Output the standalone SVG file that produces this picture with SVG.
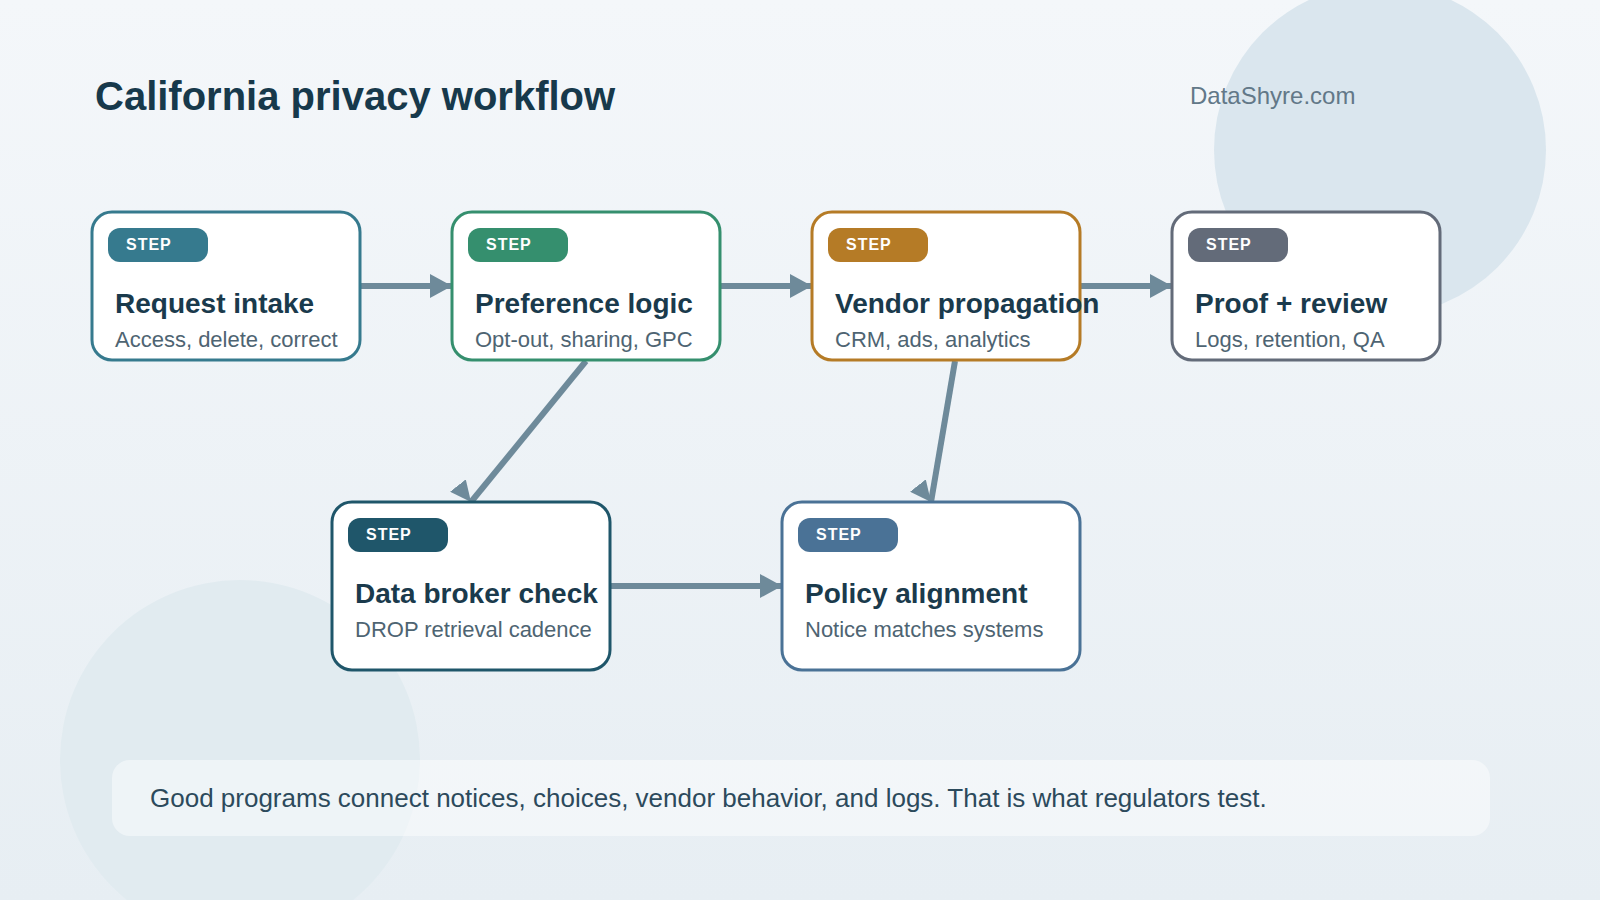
<svg xmlns="http://www.w3.org/2000/svg" width="1600" height="900" viewBox="0 0 1600 900">
  <defs>
    <linearGradient id="bg" x1="0" y1="0" x2="0" y2="1">
      <stop offset="0" stop-color="#f4f7fa"/>
      <stop offset="1" stop-color="#e7eef3"/>
    </linearGradient>
    <marker id="arrow" viewBox="0 0 22 24" refX="22" refY="12" markerWidth="22" markerHeight="24" markerUnits="userSpaceOnUse" orient="auto">
      <path d="M0,0 L22,12 L0,24 Z" fill="#6e8a9a"/>
    </marker>
    <marker id="arrowFixed" viewBox="0 0 21 20" refX="21" refY="10" markerWidth="21" markerHeight="20" markerUnits="userSpaceOnUse" orient="51.5">
      <path d="M0,0 L21,10 L0,20 Z" fill="#6e8a9a"/>
    </marker>
    <style>
      .node { fill: #ffffff; stroke-width: 3; }
      .badge-text { font-family: "Liberation Sans", Arial, sans-serif; font-weight: bold; font-size: 16px; fill: #ffffff; letter-spacing: 1px; }
      .title { font-family: "Liberation Sans", Arial, sans-serif; font-weight: bold; font-size: 28px; fill: #1a3a4c; }
      .sub { font-family: "Liberation Sans", Arial, sans-serif; font-size: 22px; fill: #4e6472; }
      .conn { stroke: #6e8a9a; stroke-width: 6; fill: none; marker-end: url(#arrow); }
      .conn-d { stroke: #6e8a9a; stroke-width: 6; fill: none; marker-end: url(#arrowFixed); }
    </style>
  </defs>

  <rect x="0" y="0" width="1600" height="900" fill="url(#bg)"/>
  <circle cx="1380" cy="150" r="166" fill="#dae6ee"/>
  <circle cx="240" cy="760" r="180" fill="#e1ebf0"/>

  <text x="95" y="110" font-family="Liberation Sans, Arial, sans-serif" font-weight="bold" font-size="40" fill="#17394b">California privacy workflow</text>
  <text x="1190" y="104" font-family="Liberation Sans, Arial, sans-serif" font-size="24" fill="#627888">DataShyre.com</text>

  <g id="connectors">
    <line class="conn" x1="360" y1="286" x2="452" y2="286"/>
    <line class="conn" x1="720" y1="286" x2="812" y2="286"/>
    <line class="conn" x1="1080" y1="286" x2="1172" y2="286"/>
    <line class="conn-d" x1="586" y1="361" x2="471" y2="502"/>
    <line class="conn-d" x1="955" y1="361" x2="931" y2="502"/>
    <line class="conn" x1="610" y1="586" x2="782" y2="586"/>
  </g>

  <g id="node-request-intake">
    <rect class="node" x="92" y="212" width="268" height="148" rx="20" stroke="#367a8e"/>
    <rect x="108" y="228" width="100" height="34" rx="12" fill="#367a8e"/>
    <text class="badge-text" x="126" y="250">STEP</text>
    <text class="title" x="115" y="313">Request intake</text>
    <text class="sub" x="115" y="347">Access, delete, correct</text>
  </g>

  <g id="node-preference-logic">
    <rect class="node" x="452" y="212" width="268" height="148" rx="20" stroke="#358f6e"/>
    <rect x="468" y="228" width="100" height="34" rx="12" fill="#358f6e"/>
    <text class="badge-text" x="486" y="250">STEP</text>
    <text class="title" x="475" y="313">Preference logic</text>
    <text class="sub" x="475" y="347">Opt-out, sharing, GPC</text>
  </g>

  <g id="node-vendor-propagation">
    <rect class="node" x="812" y="212" width="268" height="148" rx="20" stroke="#b57b26"/>
    <rect x="828" y="228" width="100" height="34" rx="12" fill="#b57b26"/>
    <text class="badge-text" x="846" y="250">STEP</text>
    <text class="title" x="835" y="313">Vendor propagation</text>
    <text class="sub" x="835" y="347">CRM, ads, analytics</text>
  </g>

  <g id="node-proof-review">
    <rect class="node" x="1172" y="212" width="268" height="148" rx="20" stroke="#636b79"/>
    <rect x="1188" y="228" width="100" height="34" rx="12" fill="#636b79"/>
    <text class="badge-text" x="1206" y="250">STEP</text>
    <text class="title" x="1195" y="313">Proof + review</text>
    <text class="sub" x="1195" y="347">Logs, retention, QA</text>
  </g>

  <g id="node-data-broker-check">
    <rect class="node" x="332" y="502" width="278" height="168" rx="20" stroke="#1f566a"/>
    <rect x="348" y="518" width="100" height="34" rx="12" fill="#1f566a"/>
    <text class="badge-text" x="366" y="540">STEP</text>
    <text class="title" x="355" y="603">Data broker check</text>
    <text class="sub" x="355" y="637">DROP retrieval cadence</text>
  </g>

  <g id="node-policy-alignment">
    <rect class="node" x="782" y="502" width="298" height="168" rx="20" stroke="#4a7296"/>
    <rect x="798" y="518" width="100" height="34" rx="12" fill="#4a7296"/>
    <text class="badge-text" x="816" y="540">STEP</text>
    <text class="title" x="805" y="603">Policy alignment</text>
    <text class="sub" x="805" y="637">Notice matches systems</text>
  </g>

  <g id="footer">
    <rect x="112" y="760" width="1378" height="76" rx="18" fill="#ffffff" fill-opacity="0.45"/>
    <text x="150" y="807" font-family="Liberation Sans, Arial, sans-serif" font-size="26" fill="#2c4a5c">Good programs connect notices, choices, vendor behavior, and logs. That is what regulators test.</text>
  </g>
</svg>
